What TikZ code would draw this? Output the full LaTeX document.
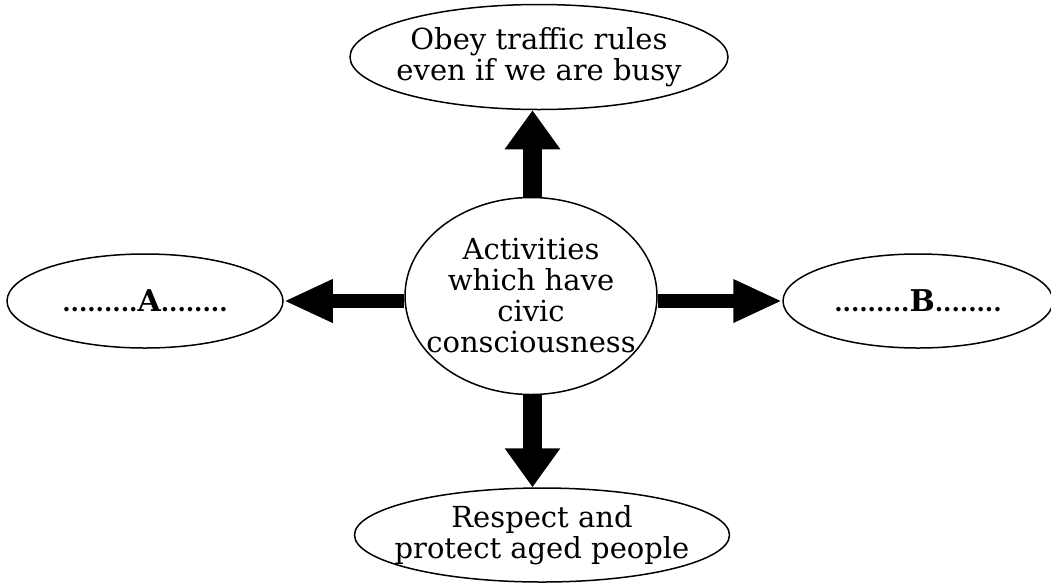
\documentclass[tikz,border=0pt]{standalone}
\usepackage{fontspec}
\setmainfont{DejaVu Serif}
\usetikzlibrary{shapes.geometric,arrows.meta}
\tikzset{
  oval/.style={ellipse,draw=black,line width=1.5pt,inner xsep=-150pt,inner ysep=-80pt,align=center,
    font=\fontsize{29}{31}\selectfont},
  vbig/.style={line width=19pt,-{Triangle[length=39pt,width=53pt]}},
  hbig/.style={line width=13.5pt,-{Triangle[length=49pt,width=40pt]}},
  dots/.style={font=\fontsize{24}{28}\selectfont\bfseries}
}
\newcommand{\blankletter}[1]{.........{\fontsize{30}{30}\selectfont #1}........}
\begin{document}
\begin{tikzpicture}[x=1pt,y=-1pt]
\useasboundingbox (0,0) rectangle (1051,582);
\node[oval,minimum width=378pt,minimum height=105pt] (t) at (539,57) {Obey traffic rules\\even if we are busy};
\node[oval,minimum width=252pt,minimum height=197pt] (c) at (531,296) {Activities\\which have\\civic\\consciousness};
\node[oval,dots,minimum width=276pt,minimum height=94pt] (l) at (145,301) {\blankletter{A}};
\node[oval,dots,minimum width=270pt,minimum height=94pt] (r) at (918,301) {\blankletter{B}};
\node[oval,minimum width=375pt,minimum height=94pt] (b) at (542,535) {Respect and\\protect aged people};
\draw[vbig] (c.north -| 532.5,0) -- (t.south -| 532.5,0);
\draw[vbig] (c.south -| 532.5,0) -- (b.north -| 532.5,0);
\draw[hbig] (c.west |- l.east) -- (l.east);
\draw[hbig] (c.east |- r.west) -- (r.west);
\end{tikzpicture}
\end{document}
